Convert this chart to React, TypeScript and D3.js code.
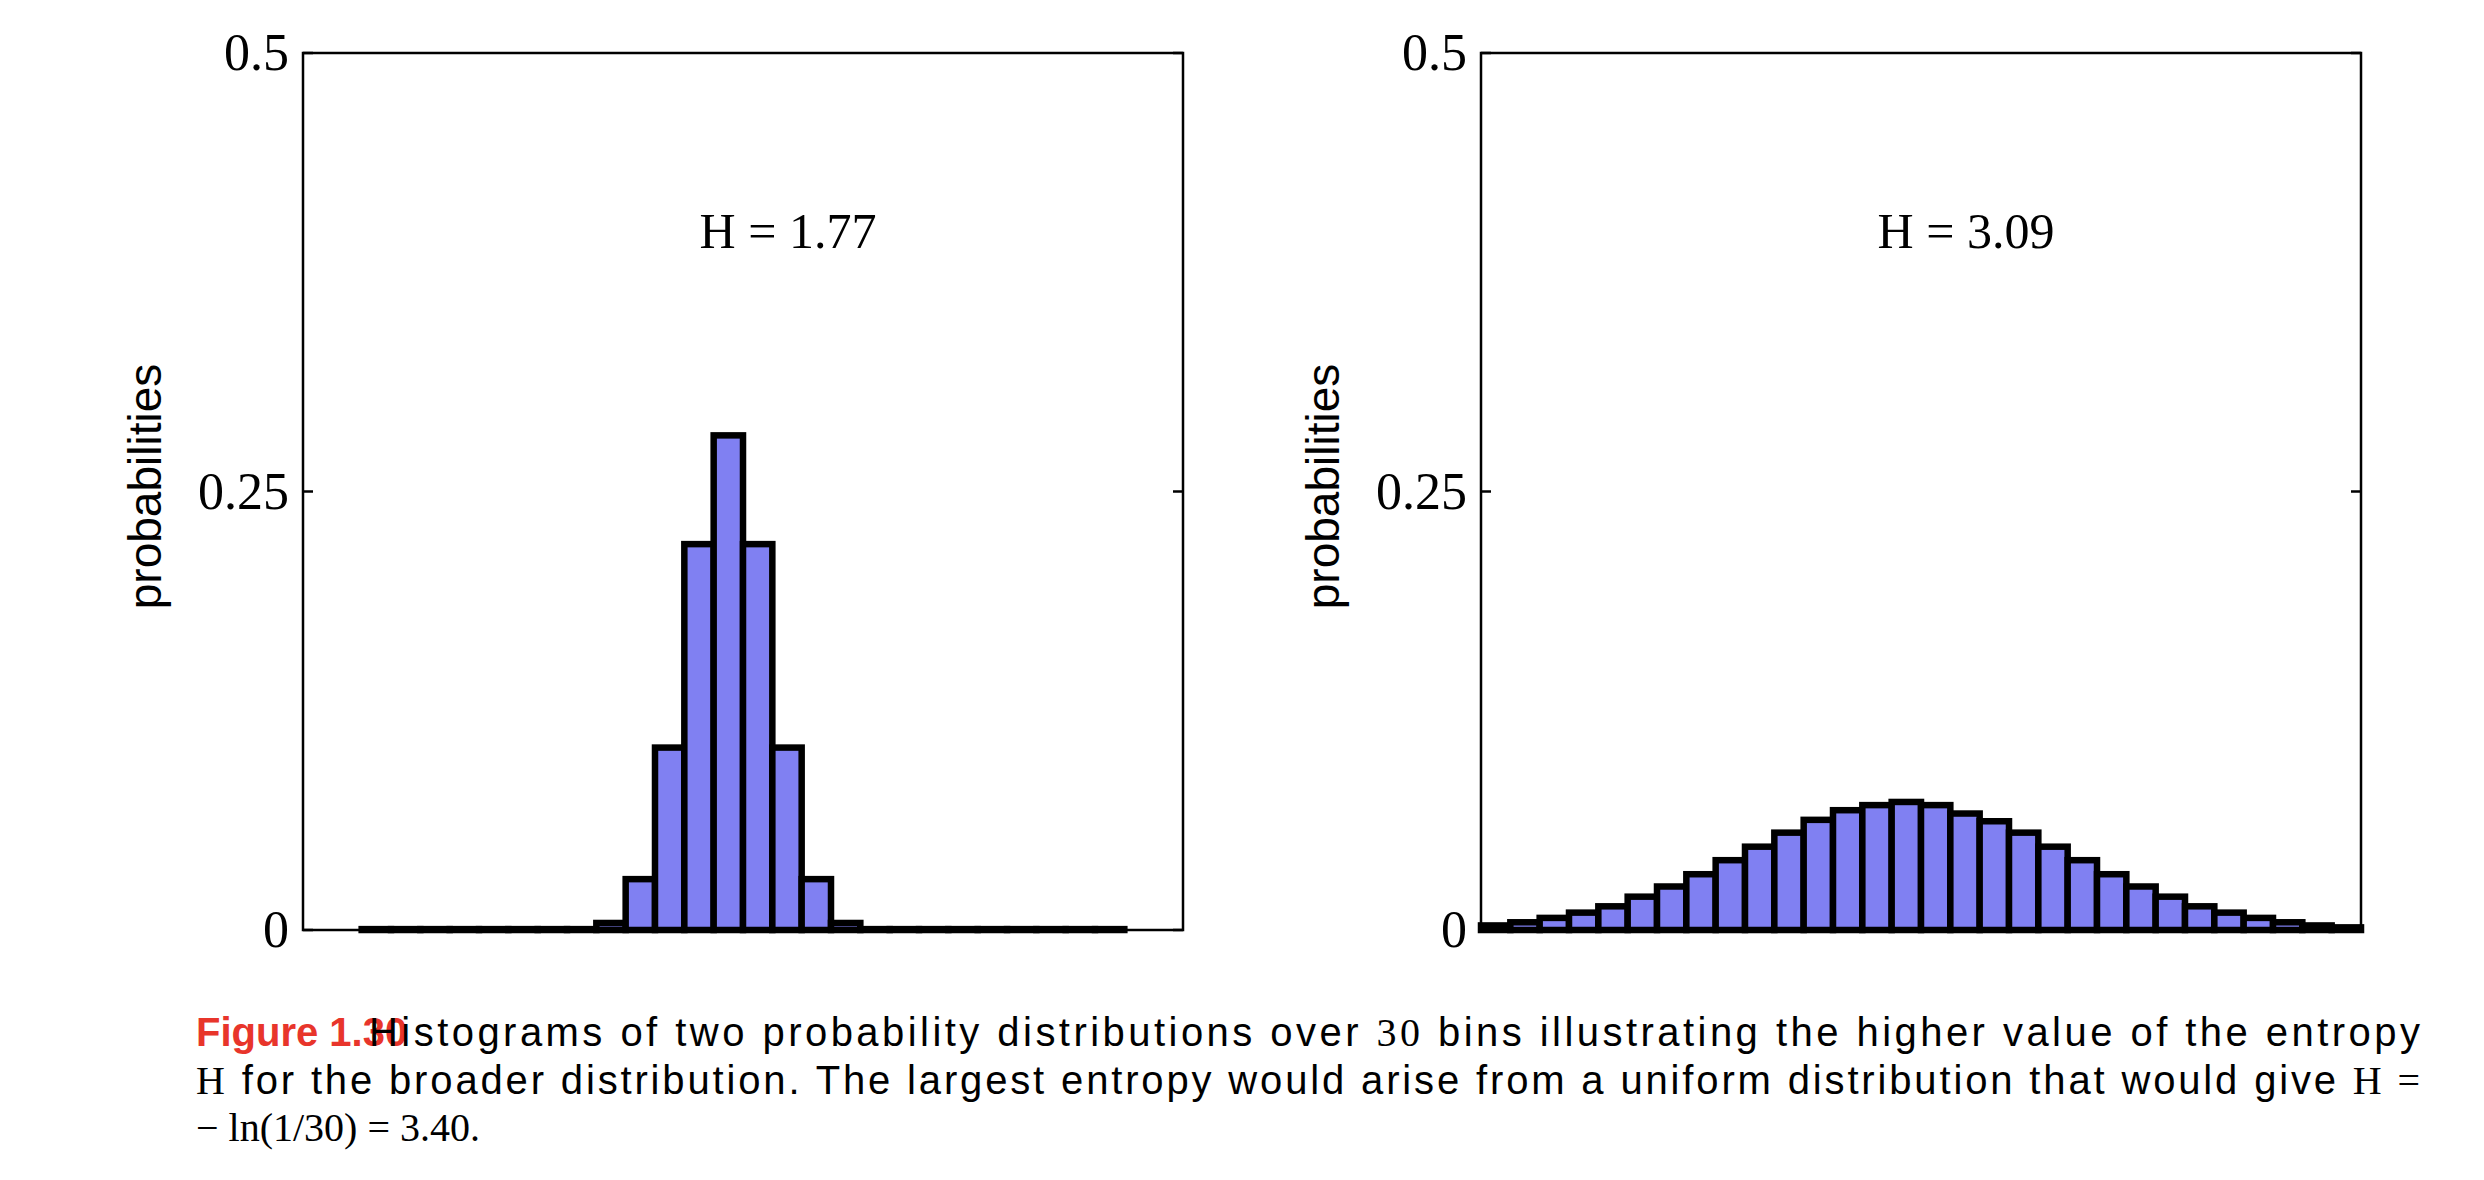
import React from "react";
import * as d3 from "d3";

const bins = d3.range(30);
const leftValues = [0, 0, 0.0005, 0.0005, 0.0005, 0.0005, 0.0005, 0.0005, 0.0005, 0.0005, 0.004, 0.029, 0.104, 0.22, 0.282, 0.22, 0.104, 0.029, 0.004, 0.0005, 0.0005, 0.0005, 0.0005, 0.0005, 0.0005, 0.0005, 0.0005, 0.0005, 0, 0];
const rightValues = [0.0026, 0.0044, 0.0069, 0.0099, 0.0135, 0.019, 0.0248, 0.0318, 0.0398, 0.0475, 0.0555, 0.0628, 0.0683, 0.0712, 0.073, 0.0712, 0.0664, 0.062, 0.0555, 0.0475, 0.0398, 0.0318, 0.0248, 0.019, 0.0135, 0.0099, 0.0069, 0.0044, 0.0026, 0.0015];
const yTicks = [0, 0.25, 0.5];
const yTickLabels = ["0", "0.25", "0.5"];
const entropyLabels = ["H = 1.77", "H = 3.09"];

const serif = "'Liberation Serif', 'DejaVu Serif', serif";
const sans = "'Liberation Sans', Arial, sans-serif";

function Panel({ x0, values, label }: { x0: number; values: number[]; label: string }) {
  const w = 880, top = 53, bottom = 930;
  const x = d3.scaleBand<number>().domain(bins).range([x0, x0 + w]).padding(0);
  const y = d3.scaleLinear().domain([0, 0.5]).range([bottom, top]);
  return (
    <g>
      {values.map((v, i) =>
        v > 0 ? (
          <rect key={i} x={x(i)!} y={y(v)} width={x.bandwidth()} height={bottom - y(v)}
            fill="#8080f2" stroke="#000" strokeWidth={6.5} strokeLinejoin="miter" />
        ) : null
      )}
      <rect x={x0} y={top} width={w} height={bottom - top} fill="none" stroke="#000" strokeWidth={2.5} />
      {yTicks.map((t, i) => (
        <g key={i}>
          <line x1={x0} x2={x0 + 10} y1={y(t)} y2={y(t)} stroke="#000" strokeWidth={2.5} />
          <line x1={x0 + w - 10} x2={x0 + w} y1={y(t)} y2={y(t)} stroke="#000" strokeWidth={2.5} />
          <text x={x0 - 14} y={y(t) + 17} textAnchor="end" fontFamily={serif} fontSize={52}>{yTickLabels[i]}</text>
        </g>
      ))}
      <text x={x0 + w / 2 + 45} y={248} textAnchor="middle" fontFamily={serif} fontSize={50}>{label}</text>
      <text transform={`translate(${x0 - 142},${y(0.25) - 5}) rotate(-90)`} textAnchor="middle" fontFamily={sans} fontSize={46}>probabilities</text>
    </g>
  );
}

export default function App() {
  return (
    <svg width={2484} height={1180} style={{ position: "absolute", left: 0, top: 0, background: "#fff" }}>
      <Panel x0={303} values={leftValues} label={entropyLabels[0]} />
      <Panel x0={1481} values={rightValues} label={entropyLabels[1]} />
      <text x={196} y={1046} fontFamily={sans} fontSize={40} fontWeight="bold" fill="#e8352b">Figure 1.30</text>
      <text x={369} y={1046} fontFamily={sans} fontSize={40} textLength={2051} lengthAdjust="spacing">
        Histograms of two probability distributions over <tspan fontFamily={serif}>30</tspan> bins illustrating the higher value of the entropy
      </text>
      <text x={196} y={1094} fontFamily={sans} fontSize={40} textLength={2224} lengthAdjust="spacing">
        <tspan fontFamily={serif}>H</tspan> for the broader distribution. The largest entropy would arise from a uniform distribution that would give <tspan fontFamily={serif}>H =</tspan>
      </text>
      <text x={196} y={1141} fontFamily={serif} fontSize={40}>− ln(1/30) = 3.40.</text>
    </svg>
  );
}
